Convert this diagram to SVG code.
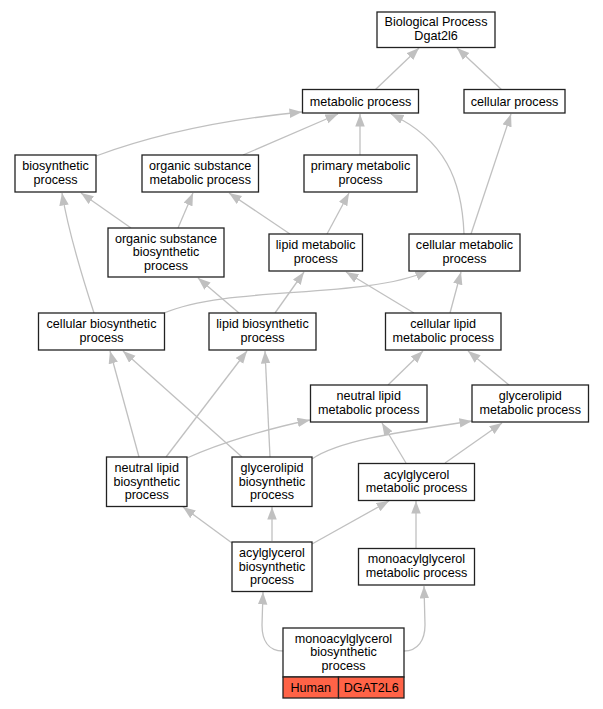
<svg xmlns="http://www.w3.org/2000/svg" width="603" height="709" viewBox="0 0 603 709">
<style>
.n rect{fill:#fff;stroke:#222;stroke-width:1.3}
.n text{font-family:"Liberation Sans",Arial,sans-serif;font-size:12.6px;fill:#000;text-anchor:middle}
.e path{fill:none;stroke:#c0c0c0;stroke-width:1.3;marker-end:url(#ah)}
</style>
<defs>
<marker id="ah" markerUnits="userSpaceOnUse" markerWidth="13" markerHeight="10" refX="12.5" refY="4.75" orient="auto">
<path d="M0,0 L12.5,4.75 L0,9.5 z" fill="#c0c0c0"/>
</marker>
</defs>
<rect width="603" height="709" fill="#fff"/>
<g id="edges" class="e">
<path d="M375,90 L419,48"/>
<path d="M502,90 L457,48"/>
<path d="M96,156 C150,136 220,120 302,112"/>
<path d="M243,155 L338,114"/>
<path d="M360,155 L360,114"/>
<path d="M464,234 C462,180 445,140 391,114"/>
<path d="M471,234 L511,114"/>
<path d="M131,228 L81,193"/>
<path d="M178,228 L193,193"/>
<path d="M290,234 L229,193"/>
<path d="M327,234 L349,193"/>
<path d="M94,313 C80,270 68,230 62,193"/>
<path d="M164,313 C230,285 360,300 428,271"/>
<path d="M239,313 L198,278"/>
<path d="M275,313 L304,272"/>
<path d="M414,313 L346,272"/>
<path d="M450,313 L461,272"/>
<path d="M388,385 L423,351"/>
<path d="M509,385 L468,351"/>
<path d="M139,457 L110,351"/>
<path d="M166,457 L247,351"/>
<path d="M187,458 C220,443 270,428 310,420"/>
<path d="M312,459 C340,440 400,432 472,421"/>
<path d="M242,457 L123,351"/>
<path d="M270,457 L265,351"/>
<path d="M406,463 L382,423"/>
<path d="M445,463 L502,423"/>
<path d="M232,543 L183,507"/>
<path d="M272,541 L272,507"/>
<path d="M312,544 L389,501"/>
<path d="M416,548 L416,501"/>
<path d="M283,651 C268,651 262,640 262,625 L263,592"/>
<path d="M404,651 C418,651 425,640 425,625 L424,586"/>
</g>
<g id="n1" class="n"><rect x="377" y="12" width="118" height="35.5"/><text x="436" y="26.2">Biological Process</text><text x="436" y="39.8">Dgat2l6</text></g>
<g id="n2" class="n"><rect x="302.5" y="89.5" width="116" height="23.5"/><text x="360.5" y="105.5">metabolic process</text></g>
<g id="n3" class="n"><rect x="464" y="89.5" width="101" height="23.5"/><text x="514.5" y="105.5">cellular process</text></g>
<g id="n4" class="n"><rect x="15" y="155" width="81" height="37"/><text x="55.5" y="170">biosynthetic</text><text x="55.5" y="183.6">process</text></g>
<g id="n5" class="n"><rect x="142" y="155" width="116.5" height="37"/><text x="200.2" y="170">organic substance</text><text x="200.2" y="183.6">metabolic process</text></g>
<g id="n6" class="n"><rect x="304" y="155" width="113" height="37"/><text x="360.5" y="170">primary metabolic</text><text x="360.5" y="183.6">process</text></g>
<g id="n7" class="n"><rect x="108" y="228" width="116" height="49"/><text x="166" y="242.7">organic substance</text><text x="166" y="256.3">biosynthetic</text><text x="166" y="269.9">process</text></g>
<g id="n8" class="n"><rect x="269" y="234" width="93.5" height="37"/><text x="315.7" y="249">lipid metabolic</text><text x="315.7" y="262.6">process</text></g>
<g id="n9" class="n"><rect x="409" y="234" width="111" height="37"/><text x="464.5" y="249">cellular metabolic</text><text x="464.5" y="262.6">process</text></g>
<g id="n10" class="n"><rect x="38.5" y="313" width="126" height="37"/><text x="101.5" y="328">cellular biosynthetic</text><text x="101.5" y="341.6">process</text></g>
<g id="n11" class="n"><rect x="209" y="313" width="107" height="37"/><text x="262.5" y="328">lipid biosynthetic</text><text x="262.5" y="341.6">process</text></g>
<g id="n12" class="n"><rect x="385.5" y="313" width="115.5" height="37"/><text x="443.2" y="328">cellular lipid</text><text x="443.2" y="341.6">metabolic process</text></g>
<g id="n13" class="n"><rect x="310.5" y="385" width="116.5" height="37"/><text x="368.7" y="400">neutral lipid</text><text x="368.7" y="413.6">metabolic process</text></g>
<g id="n14" class="n"><rect x="472" y="385" width="116.5" height="37"/><text x="530.2" y="400">glycerolipid</text><text x="530.2" y="413.6">metabolic process</text></g>
<g id="n15" class="n"><rect x="106.5" y="457" width="80.5" height="49.5"/><text x="146.7" y="472">neutral lipid</text><text x="146.7" y="485.6">biosynthetic</text><text x="146.7" y="499.2">process</text></g>
<g id="n16" class="n"><rect x="232" y="457" width="80" height="49.5"/><text x="272" y="472">glycerolipid</text><text x="272" y="485.6">biosynthetic</text><text x="272" y="499.2">process</text></g>
<g id="n17" class="n"><rect x="358.5" y="463.5" width="116" height="37"/><text x="416.5" y="478.5">acylglycerol</text><text x="416.5" y="492.1">metabolic process</text></g>
<g id="n18" class="n"><rect x="232" y="542" width="80" height="49.5"/><text x="272" y="557">acylglycerol</text><text x="272" y="570.6">biosynthetic</text><text x="272" y="584.2">process</text></g>
<g id="n19" class="n"><rect x="358.5" y="548.5" width="116" height="36.5"/><text x="416.5" y="563.2">monoacylglycerol</text><text x="416.5" y="576.8">metabolic process</text></g>
<g id="n20" class="n"><rect x="283" y="628" width="121" height="49"/><text x="343.5" y="642.7">monoacylglycerol</text><text x="343.5" y="656.3">biosynthetic</text><text x="343.5" y="669.9">process</text>
<rect x="283" y="677" width="55.5" height="21" style="fill:#ff6347"/><rect x="338.5" y="677" width="65.5" height="21" style="fill:#ff6347"/><text x="310.7" y="692">Human</text><text x="371.2" y="692">DGAT2L6</text></g>
</svg>
